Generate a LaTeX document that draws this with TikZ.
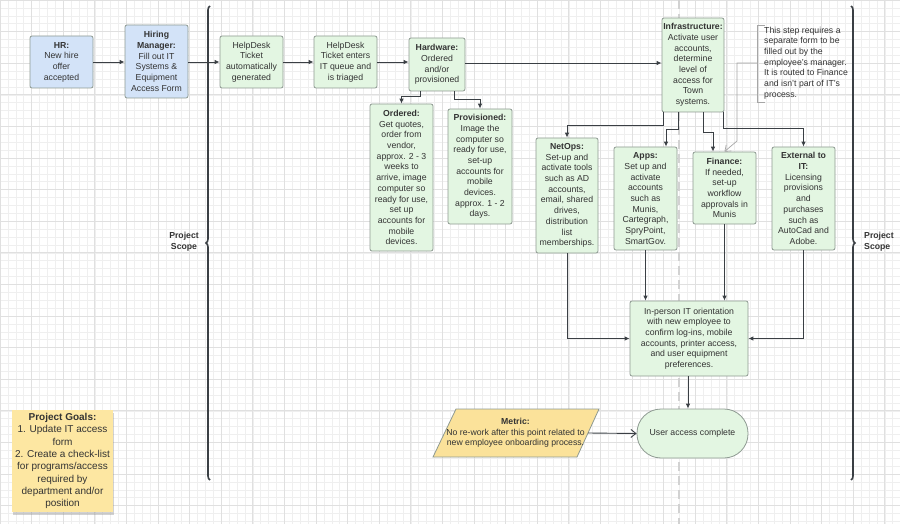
\documentclass[tikz,border=0pt]{standalone}
\usepackage{fontspec}
\setmainfont{Liberation Sans}
\usetikzlibrary{arrows.meta,calc,decorations.pathreplacing,shadows}
\definecolor{bluef}{HTML}{D3E3F8}
\definecolor{greenf}{HTML}{E3F6E2}
\definecolor{yellowf}{HTML}{FDE7A2}
\definecolor{metricf}{HTML}{FBE29A}
\definecolor{bordc}{HTML}{8E9A92}
\definecolor{linec}{HTML}{3A3F44}
\definecolor{txt}{HTML}{333333}
\definecolor{gridminor}{HTML}{EFEFEF}
\definecolor{gridmajor}{HTML}{E0E0E0}
\tikzset{
  box/.style={draw=bordc, line width=0.8pt, rounded corners=2pt, align=center, inner sep=1pt,
    font=\fontsize{8.7}{10.7}\selectfont, text=txt},
  bluebox/.style={box, fill=bluef},
  greenbox/.style={box, fill=greenf},
  arr/.style={draw=linec, line width=0.9pt, -{Latex[length=5pt,width=4.5pt]}},
  openarr/.style={draw=linec, line width=0.9pt, -{Straight Barb[length=5pt,width=8pt]}},
  notearr/.style={draw=gray!70, line width=0.7pt, -{Straight Barb[length=5pt,width=8pt]}},
  scopebrace/.style={draw=linec, line width=1.6pt, decorate, decoration={brace, amplitude=4pt}},
  scopelabel/.style={font=\bfseries\fontsize{8.7}{10.7}\selectfont, text=txt, align=left, inner sep=0pt},
}
\begin{document}
\begin{tikzpicture}[x=1pt,y=-1pt]
\useasboundingbox (0,0) rectangle (900,524);
\fill[white] (0,0) rectangle (900,524);
\draw[gridminor, line width=0.5pt, step=7.9pt] (0,0) grid (900,524);
\draw[gridmajor, line width=0.7pt, step=31.6pt] (0,0) grid (900,524);
% dashed vertical
\draw[gray!35, line width=2.2pt, dash pattern=on 9pt off 5pt] (679,0) -- (679,524);

% nodes
\node[bluebox, minimum width=63pt, minimum height=52pt] (hr) at (61.5,62) {\textbf{HR:}\\New hire\\offer\\accepted};
\node[bluebox, minimum width=63pt, minimum height=73pt] (hm) at (156.5,61.5) {\textbf{Hiring}\\\textbf{Manager:}\\Fill out IT\\Systems \&\\Equipment\\Access Form};
\node[greenbox, minimum width=63pt, minimum height=52pt] (hd1) at (251.5,62) {HelpDesk\\Ticket\\automatically\\generated};
\node[greenbox, minimum width=63pt, minimum height=52pt] (hd2) at (345.5,62) {HelpDesk\\Ticket enters\\IT queue and\\is triaged};
\node[greenbox, minimum width=56pt, minimum height=53pt] (hw) at (437,64.5) {\textbf{Hardware:}\\Ordered\\and/or\\provisioned};
\node[greenbox, minimum width=63pt, minimum height=147pt] (ord) at (401.5,177.5) {\textbf{Ordered:}\\Get quotes,\\order from\\vendor,\\approx. 2 - 3\\weeks to\\arrive, image\\computer so\\ready for use,\\set up\\accounts for\\mobile\\devices.};
\node[greenbox, minimum width=64pt, minimum height=115pt] (prov) at (480,166.5) {\textbf{Provisioned:}\\Image the\\computer so\\ready for use,\\set-up\\accounts for\\mobile\\devices.\\approx. 1 - 2\\days.};
\node[greenbox, minimum width=62pt, minimum height=94pt] (infra) at (693,65) {\textbf{Infrastructure:}\\Activate user\\accounts,\\determine\\level of\\access for\\Town\\systems.};
\node[anchor=west, align=left, inner sep=0pt, font=\fontsize{8.7}{10.7}\selectfont, text=txt] (ann) at (764,63) {This step requires a\\separate form to be\\filled out by the\\employee's manager.\\It is routed to Finance\\and isn't part of IT's\\process.};
\node[greenbox, minimum width=62pt, minimum height=115pt] (net) at (567,195.5) {\textbf{NetOps:}\\Set-up and\\activate tools\\such as AD\\accounts,\\email, shared\\drives,\\distribution\\list\\memberships.};
\node[greenbox, minimum width=63pt, minimum height=103pt] (apps) at (645.5,198.5) {\textbf{Apps:}\\Set up and\\activate\\accounts\\such as\\Munis,\\Cartegraph,\\SpryPoint,\\SmartGov.};
\node[greenbox, minimum width=63pt, minimum height=72pt] (fin) at (724.5,188) {\textbf{Finance:}\\If needed,\\set-up\\workflow\\approvals in\\Munis};
\node[greenbox, minimum width=63pt, minimum height=103pt] (ext) at (803.5,198.5) {\textbf{External to}\\\textbf{IT:}\\Licensing\\provisions\\and\\purchases\\such as\\AutoCad and\\Adobe.};
\node[greenbox, minimum width=118pt, minimum height=75pt] (orient) at (689,338.5) {In-person IT orientation\\with new employee to\\confirm log-ins, mobile\\accounts, printer access,\\and user equipment\\preferences.};
\node[greenbox, rounded corners=24pt, minimum width=111pt, minimum height=49pt] (user) at (692.5,433.5) {User access complete};
% metric parallelogram
\filldraw[fill=metricf, draw=bordc, line width=0.8pt] (456,409) -- (599,409) -- (577,457) -- (433,457) -- cycle;
\node[align=center, inner sep=0pt, font=\fontsize{8.7}{10.7}\selectfont, text=txt] (metric) at (515.5,433) {\textbf{Metric:}\\No re-work after this point related to\\new employee onboarding process.};
\coordinate (mE) at (588,433);
% goals
\node[box, draw=none, rounded corners=0pt, fill=yellowf, minimum width=101pt, minimum height=102pt,
  font=\fontsize{10}{12.3}\selectfont, drop shadow={opacity=0.35, shadow xshift=1pt, shadow yshift=-3pt}] (goals) at (62.5,461) {\textbf{Project Goals:}\\1. Update IT access\\form\\2. Create a check-list\\for programs/access\\required by\\department and/or\\position};

% braces
\draw[scopebrace] (210,480) -- (210,6);
\draw[scopebrace] (851,6) -- (851,480);
\node[scopelabel, align=center] (scopeL) at (184,242) {Project\\Scope};
\node[scopelabel, anchor=west] (scopeR) at (864,242) {Project\\Scope};

% annotation bracket and line
\draw[gray!70, line width=0.7pt] (765,25) -- (757,25) -- (757,102) -- (765,102);
\coordinate (annb) at (757,63);
\draw[notearr] (annb) -- (737,63) -- (737,141) -- (fin.north);

% connectors
\draw[arr] (hr.east) -- (hr.east -| hm.west);
\draw[arr] (hm.east |- hr.east) -- (hr.east -| hd1.west);
\draw[arr] (hd1.east) -- (hd1.east -| hd2.west);
\draw[arr] (hd2.east) -- (hd2.east -| hw.west);
\draw[arr] (hw.east |- 0,63) -- (infra.west |- 0,63);
\draw[arr] ([xshift=-17pt]hw.south) -- ++(0,5) -| (ord.north);
\draw[arr] ([xshift=17pt]hw.south) -- ++(0,8) -| (prov.north);
\draw[arr] ([xshift=-30pt]infra.south) -- ++(0,13) -| (net.north);
\draw[arr] ([xshift=-15pt]infra.south) -- ++(0,17) -| ([xshift=20.5pt]apps.north);
\draw[arr] ([xshift=10pt]infra.south) -- ++(0,20) -| ([xshift=-11.5pt]fin.north);
\draw[arr] ([xshift=30pt]infra.south) -- ++(0,16) -| (ext.north);
\draw[arr] (net.south) |- (orient.west);
\draw[arr] (apps.south) -- (apps.south |- orient.north);
\draw[arr] (fin.south) -- (fin.south |- orient.north);
\draw[arr] (ext.south) |- (orient.east);
\draw[arr] ([xshift=-1pt]orient.south) -- ([xshift=-1pt]orient.south |- user.north);
\draw[openarr] (mE) -- (user.west);
\end{tikzpicture}
\end{document}
